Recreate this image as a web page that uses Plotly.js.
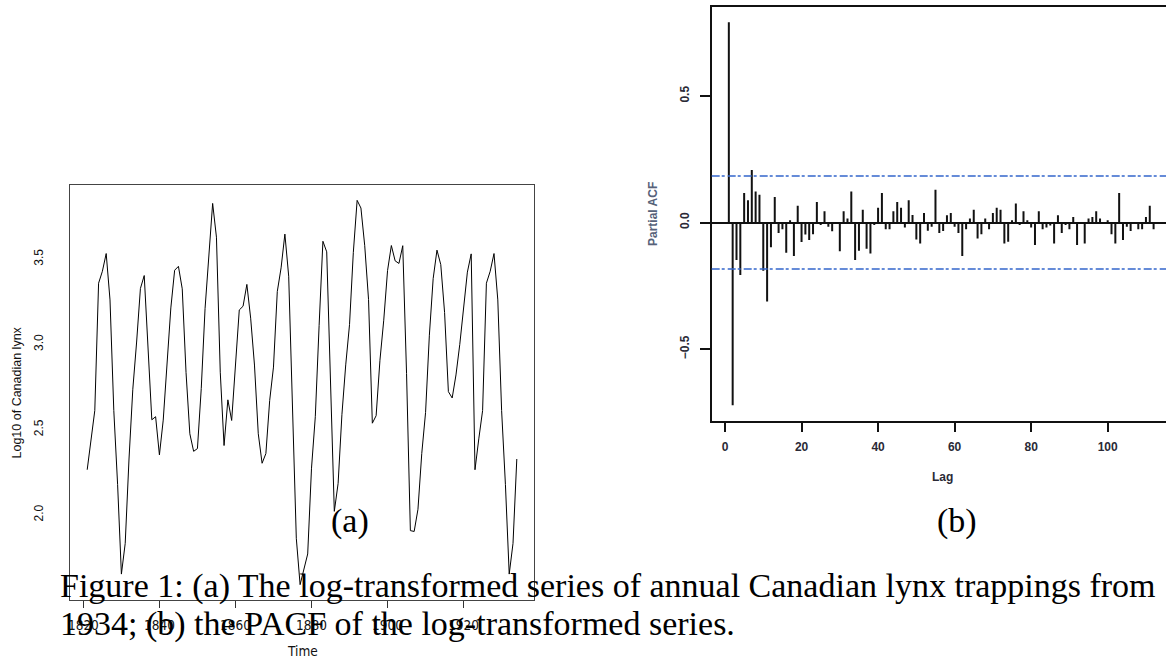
<!DOCTYPE html>
<html>
<head>
<meta charset="utf-8">
<script src="https://cdn.plot.ly/plotly-3.0.1.min.js"></script>
<style>
  html, body { margin: 0; padding: 0; background: #ffffff; }
  #chart { width: 1166px; height: 661px; }
</style>
</head>
<body>
<div id="chart"></div>
<script>
// ---- Panel (a): log10 lynx series as drawn in the figure ----
const startYear = 1821;
const lynxLog10 = [
  2.265, 2.446, 2.612, 3.359, 3.429, 3.533, 3.261, 2.612, 2.179, 1.653, 1.833, 2.328,
  2.737, 3.014, 3.328, 3.404, 2.981, 2.558, 2.576, 2.352, 2.556, 2.864, 3.214, 3.435,
  3.458, 3.326, 2.835, 2.476, 2.373, 2.389, 2.742, 3.210, 3.520, 3.827, 3.629, 2.837,
  2.407, 2.675, 2.554, 2.894, 3.202, 3.224, 3.352, 3.154, 2.879, 2.476, 2.303, 2.360,
  2.671, 2.867, 3.310, 3.449, 3.647, 3.400, 2.590, 1.863, 1.591, 1.690, 1.771, 2.274,
  2.576, 3.111, 3.605, 3.543, 2.769, 2.021, 2.185, 2.588, 2.880, 3.116, 3.540, 3.845,
  3.800, 3.579, 3.264, 2.538, 2.582, 2.907, 3.142, 3.433, 3.580, 3.490, 3.475, 3.579,
  2.829, 1.908, 1.903, 2.033, 2.360, 2.601, 3.054, 3.386, 3.553, 3.468, 3.187, 2.723,
  2.686, 2.821, 3.000, 3.201, 3.424, 3.531,
  2.265, 2.446, 2.612, 3.359, 3.429, 3.533, 3.261, 2.612, 2.179, 1.653, 1.833, 2.328
];
const yearTicks = [1820, 1840, 1860, 1880, 1900, 1920];
const yearTickLabels = ["1820", "1840", "1860", "1880", "1900", "1920"];
const lynxTicks = [2.0, 2.5, 3.0, 3.5];
const lynxTickLabels = ["2.0", "2.5", "3.0", "3.5"];

// ---- Panel (b): PACF of the series, lags 1..113 ----
const pacfValues = [
   0.792, -0.722, -0.148, -0.207,  0.117,  0.088,  0.208,  0.123,  0.110, -0.190,
  -0.312, -0.098,  0.101, -0.041, -0.026, -0.119,  0.009, -0.132,  0.066, -0.077,
  -0.047, -0.069, -0.046,  0.081, -0.010,  0.045, -0.017, -0.034,  0.002, -0.113,
   0.045,  0.016,  0.123, -0.148, -0.111,  0.051, -0.104, -0.122, -0.010,  0.059,
   0.117, -0.026, -0.026,  0.045,  0.081,  0.059, -0.020,  0.088,  0.030, -0.067,
  -0.083,  0.038, -0.032, -0.017,  0.130, -0.041, -0.033,  0.029,  0.038, -0.017,
  -0.041, -0.132, -0.026,  0.016,  0.051, -0.063, -0.046,  0.016, -0.026,  0.038,
   0.059,  0.051, -0.083, -0.076,  0.009,  0.075, -0.010,  0.045,  0.009, -0.020,
  -0.089,  0.045, -0.026, -0.020, -0.012, -0.083,  0.029, -0.041, -0.010, -0.026,
   0.022, -0.089,  0.002, -0.083,  0.016,  0.022,  0.045,  0.016,  0.002,  0.009,
  -0.046, -0.083,  0.117, -0.069, -0.017, -0.033,  0.002, -0.026, -0.026,  0.022,
   0.066, -0.026,  0.002
];
const confLimit = 0.1836;
const lagTicks = [0, 20, 40, 60, 80, 100];
const lagTickLabels = ["0", "20", "40", "60", "80", "100"];
const pacfTicks = [-0.5, 0.0, 0.5];
const pacfTickLabels = ["\u22120.5", "0.0", "0.5"];

// ---- Text ----
const captionLine1 = "Figure 1: (a) The log-transformed series of annual Canadian lynx trappings from";
const captionLine2 = "1934; (b) the PACF of the log-transformed series.";

// ---- build traces ----
const years = lynxLog10.map((_, i) => startYear + i);
const lags = pacfValues.map((_, i) => i + 1);
const stemX = [], stemY = [];
lags.forEach((l, i) => { stemX.push(l, l, null); stemY.push(0, pacfValues[i], null); });

const W = 1166, H = 661;
const px = v => v / W;
const py = v => 1 - v / H;

const traces = [
  { x: years, y: lynxLog10, type: 'scatter', mode: 'lines',
    line: { color: '#000000', width: 1 }, xaxis: 'x', yaxis: 'y', hoverinfo: 'skip' },
  { x: stemX, y: stemY, type: 'scatter', mode: 'lines',
    line: { color: '#111111', width: 2 }, xaxis: 'x2', yaxis: 'y2', hoverinfo: 'skip' }
];

const sansFont = 'Liberation Sans, Arial, sans-serif';
const narrowFont = 'Liberation Sans Narrow, DejaVu Sans Condensed, Arial Narrow, sans-serif';
const serifFont = 'Liberation Serif, Times New Roman, serif';
const rightColor = '#2a2a36';
const dashStyle = { color: '#3366cc', width: 1.5, dash: '8px,2px,3px,3px' };

const layout = {
  width: W, height: H, autosize: false,
  margin: { l: 0, r: 0, t: 0, b: 0, pad: 0 },
  paper_bgcolor: '#ffffff', plot_bgcolor: 'rgba(0,0,0,0)',
  showlegend: false,
  xaxis: {
    domain: [px(70), px(534)], range: [1816.48, 1938.52],
    tickvals: yearTicks, ticktext: yearTickLabels,
    ticks: 'outside', ticklen: 7, tickwidth: 1, tickcolor: '#333333',
    ticklabelstandoff: 6,
    tickfont: { family: narrowFont, size: 13.5, color: '#111111' },
    showline: true, mirror: true, linecolor: '#444444', linewidth: 1,
    showgrid: false, zeroline: false, anchor: 'y'
  },
  yaxis: {
    domain: [py(600), py(185)], range: [1.501, 3.935],
    tickvals: lynxTicks, ticktext: lynxTickLabels, tickangle: -90,
    ticks: '', ticklabelstandoff: 21,
    tickfont: { family: sansFont, size: 12, color: '#111111' },
    showline: true, mirror: true, linecolor: '#444444', linewidth: 1,
    showgrid: false, zeroline: false, anchor: 'x'
  },
  xaxis2: {
    domain: [px(711.7), 1], range: [-3.48, 115.24],
    tickvals: lagTicks, ticktext: lagTickLabels,
    ticks: 'outside', ticklen: 9.5, tickwidth: 2, tickcolor: '#111111',
    ticklabelstandoff: 4,
    tickfont: { family: sansFont, size: 12, color: rightColor, weight: 'bold' },
    showline: true, mirror: true, linecolor: '#111111', linewidth: 2,
    showgrid: false, zeroline: false, anchor: 'y2'
  },
  yaxis2: {
    domain: [py(420.7), py(6.7)], range: [-0.783, 0.853],
    tickvals: pacfTicks, ticktext: pacfTickLabels, tickangle: -90,
    ticks: 'outside', ticklen: 10, tickwidth: 2, tickcolor: '#111111',
    ticklabelstandoff: 6,
    tickfont: { family: sansFont, size: 12, color: rightColor, weight: 'bold' },
    showline: true, mirror: false, linecolor: '#111111', linewidth: 2,
    showgrid: false, zeroline: true, zerolinecolor: '#111111', zerolinewidth: 2,
    anchor: 'x2'
  },
  shapes: [
    { type: 'line', xref: 'x2 domain', yref: 'y2', x0: 0, x1: 1, y0: confLimit, y1: confLimit,
      line: dashStyle },
    { type: 'line', xref: 'x2 domain', yref: 'y2', x0: 0, x1: 1, y0: -confLimit, y1: -confLimit,
      line: dashStyle }
  ],
  annotations: [
    { text: 'Log10 of Canadian lynx', xref: 'paper', yref: 'paper', x: px(16), y: py(392.5),
      textangle: -90, showarrow: false, xanchor: 'center', yanchor: 'middle',
      font: { family: sansFont, size: 12.5, color: '#111111' } },
    { text: 'Time', xref: 'paper', yref: 'paper', x: px(302), y: py(651),
      showarrow: false, xanchor: 'center', yanchor: 'middle',
      font: { family: narrowFont, size: 13.5, color: '#111111' } },
    { text: 'Partial ACF', xref: 'paper', yref: 'paper', x: px(653), y: py(214),
      textangle: -90, showarrow: false, xanchor: 'center', yanchor: 'middle',
      font: { family: sansFont, size: 12, color: '#56627a', weight: 'bold' } },
    { text: 'Lag', xref: 'paper', yref: 'paper', x: px(942), y: py(477),
      showarrow: false, xanchor: 'center', yanchor: 'middle',
      font: { family: sansFont, size: 12, color: rightColor, weight: 'bold' } },
    { text: '(a)', xref: 'paper', yref: 'paper', x: px(350), y: py(521),
      showarrow: false, xanchor: 'center', yanchor: 'middle',
      font: { family: serifFont, size: 34, color: '#000000' } },
    { text: '(b)', xref: 'paper', yref: 'paper', x: px(957), y: py(521),
      showarrow: false, xanchor: 'center', yanchor: 'middle',
      font: { family: serifFont, size: 34, color: '#000000' } },
    { text: captionLine1, xref: 'paper', yref: 'paper', x: px(58), y: py(585.5),
      showarrow: false, xanchor: 'left', yanchor: 'middle',
      font: { family: serifFont, size: 34, color: '#000000' } },
    { text: captionLine2, xref: 'paper', yref: 'paper', x: px(58), y: py(623.8),
      showarrow: false, xanchor: 'left', yanchor: 'middle',
      font: { family: serifFont, size: 34, color: '#000000' } }
  ]
};

Plotly.newPlot('chart', traces, layout, { displayModeBar: false, staticPlot: true });
</script>
</body>
</html>
